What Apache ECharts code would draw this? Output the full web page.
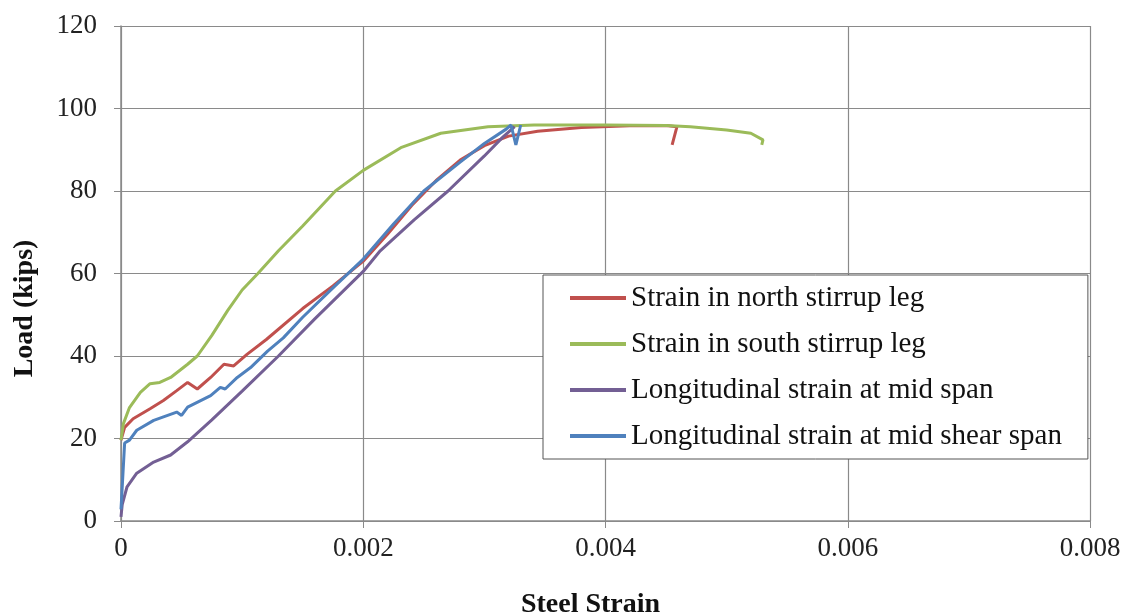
<!DOCTYPE html>
<html>
<head>
<meta charset="utf-8">
<script src="https://cdn.jsdelivr.net/npm/echarts@6/dist/echarts.min.js"></script>
<style>
  html, body { margin: 0; padding: 0; background: #fff; }
  #chart { width: 1130px; height: 615px; }
</style>
</head>
<body>
<div id="chart"></div>
<script>
// Load vs steel strain
const SERIES_NAMES = [
  'Strain in north stirrup leg',
  'Strain in south stirrup leg',
  'Longitudinal strain at mid span',
  'Longitudinal strain at mid shear span'
];

// [strain, load (kips)]
const northLeg = [
  [0, 19.6], [0.00003, 22.7], [0.0001, 24.8], [0.00024, 27.2], [0.00035, 29.2],
  [0.00046, 31.6], [0.00055, 33.6], [0.00063, 32], [0.00074, 34.8], [0.00085, 38],
  [0.00093, 37.6], [0.00104, 40.4], [0.0012, 44], [0.0015, 51.5], [0.00175, 57],
  [0.002, 63], [0.0022, 69.5], [0.0024, 76.5], [0.0026, 82.5], [0.0028, 87.5],
  [0.003, 91], [0.0032, 93.3], [0.00344, 94.5], [0.0038, 95.4], [0.0042, 95.8],
  [0.0045, 95.9], [0.00459, 95.6], [0.00455, 91.2]
];

const southLeg = [
  [0, 19.6], [0.00002, 23.6], [0.00007, 27.5], [0.00016, 31.2], [0.00024, 33.3],
  [0.00032, 33.6], [0.00041, 34.8], [0.00055, 38], [0.00063, 40], [0.00075, 45],
  [0.00088, 51], [0.001, 56], [0.00113, 60], [0.0013, 65.5], [0.0015, 71.5],
  [0.00177, 80], [0.002, 85], [0.00231, 90.5], [0.00264, 94], [0.00303, 95.6],
  [0.00341, 96], [0.004, 96], [0.0045, 95.9], [0.0047, 95.6], [0.005, 94.8],
  [0.0052, 94], [0.0053, 92.4], [0.00529, 91.2]
];

const midSpan = [
  [0, 1], [0.00001, 4], [0.00005, 8.3], [0.00013, 11.6], [0.00027, 14.3],
  [0.00041, 16], [0.00055, 19.2], [0.00075, 24.5], [0.001, 31.5], [0.0013, 40],
  [0.0016, 49], [0.002, 60.5], [0.00214, 65.5], [0.00242, 73], [0.0027, 80],
  [0.003, 88.5], [0.00315, 93], [0.00325, 95.6]
];

const midShearSpan = [
  [0, 2.8], [0.00003, 18.9], [0.00007, 19.6], [0.00013, 22], [0.00027, 24.4],
  [0.00046, 26.4], [0.0005, 25.6], [0.00055, 27.6], [0.00074, 30.4], [0.00082, 32.4],
  [0.00086, 32], [0.00096, 34.8], [0.00107, 37.2], [0.00121, 41.2], [0.00134, 44.4],
  [0.0015, 49.4], [0.00175, 56.5], [0.002, 63.5], [0.00225, 72], [0.0025, 80],
  [0.0028, 87], [0.003, 91.5], [0.00318, 95], [0.00322, 96], [0.00326, 91.2],
  [0.0033, 96]
];

const COLORS = ['#C0504D', '#9BBB59', '#735F94', '#4F81BD'];
const X_TICKS = { min: 0, max: 0.008, interval: 0.002 };
const Y_TICKS = { min: 0, max: 120, interval: 20 };

const FONT = "'Liberation Serif', 'Times New Roman', serif";
const GRID_COLOR = '#8a8a8a';

const chart = echarts.init(document.getElementById('chart'));

const allData = [northLeg, southLeg, midSpan, midShearSpan];

const option = {
  backgroundColor: '#fff',
  animation: false,
  grid: { left: 121, right: 40, top: 26, bottom: 94, outerBoundsMode: 'none', containLabel: false },
  legend: {
    orient: 'vertical',
    left: 543,
    top: 275,
    padding: [8, 26, 8, 27],
    itemGap: 16,
    itemWidth: 56,
    itemHeight: 4,
    icon: 'rect',
    borderColor: '#555',
    borderWidth: 1,
    backgroundColor: '#fff',
    textStyle: { fontFamily: FONT, fontSize: 29, color: '#111', lineHeight: 30 },
    data: SERIES_NAMES
  },
  xAxis: {
    type: 'value',
    min: X_TICKS.min,
    max: X_TICKS.max,
    interval: X_TICKS.interval,
    name: 'Steel Strain',
    nameLocation: 'middle',
    nameGap: 70,
    nameTextStyle: {
      fontFamily: FONT, fontSize: 28, fontWeight: 'bold', color: '#111',
      padding: [0, 30, 0, 0]
    },
    axisLine: { lineStyle: { color: GRID_COLOR, width: 1.5 } },
    axisTick: { show: true, length: 7, lineStyle: { color: GRID_COLOR } },
    axisLabel: { fontFamily: FONT, fontSize: 27, color: '#222', margin: 14 },
    splitLine: { show: true, lineStyle: { color: GRID_COLOR, width: 1.2 } }
  },
  yAxis: {
    type: 'value',
    min: Y_TICKS.min,
    max: Y_TICKS.max,
    interval: Y_TICKS.interval,
    name: 'Load (kips)',
    nameLocation: 'middle',
    nameRotate: 90,
    nameGap: 82,
    nameTextStyle: {
      fontFamily: FONT, fontSize: 28, fontWeight: 'bold', color: '#111',
      padding: [0, 70, 0, 0]
    },
    axisLine: { show: true, lineStyle: { color: GRID_COLOR, width: 1.5 } },
    axisTick: { show: true, length: 7, lineStyle: { color: GRID_COLOR } },
    axisLabel: { fontFamily: FONT, fontSize: 27, color: '#222', margin: 24 },
    splitLine: { show: true, lineStyle: { color: GRID_COLOR, width: 1.2 } }
  },
  series: allData.map((d, i) => ({
    name: SERIES_NAMES[i],
    type: 'line',
    data: d,
    showSymbol: false,
    symbol: 'none',
    color: COLORS[i],
    lineStyle: { width: 3, color: COLORS[i] },
    z: 3 + i
  }))
};

chart.setOption(option);
</script>
</body>
</html>
